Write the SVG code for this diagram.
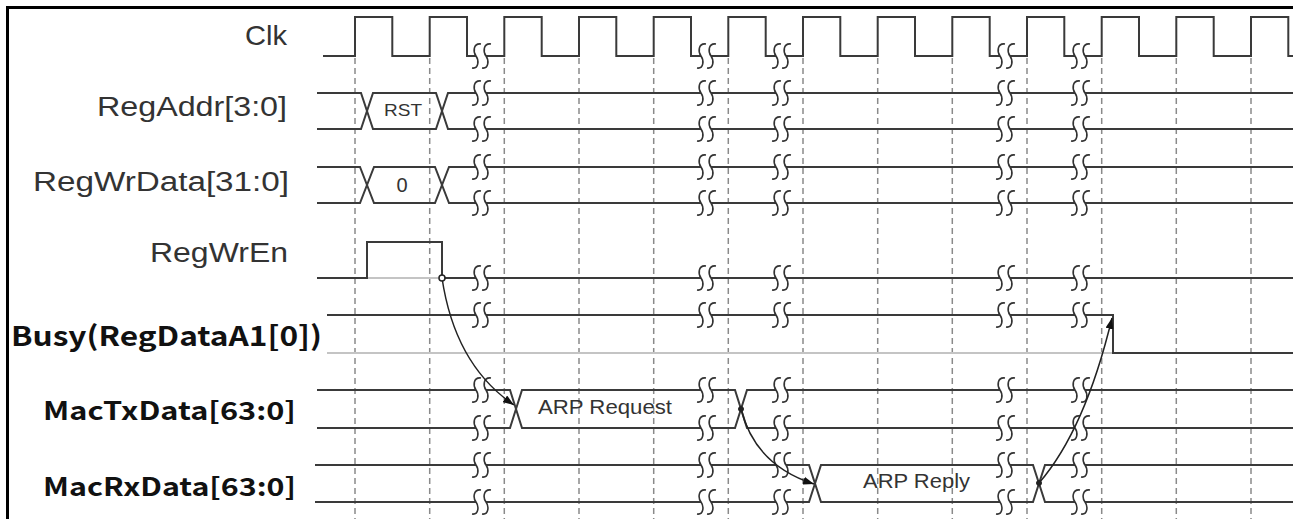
<svg xmlns="http://www.w3.org/2000/svg" xmlns:xlink="http://www.w3.org/1999/xlink" width="1293" height="519" viewBox="0 0 1293 519">
<style>
.wave{fill:none;stroke:#3a3a3a;stroke-width:2;stroke-linejoin:miter}
.ref{fill:none;stroke:#c4c4c4;stroke-width:2}
.grid{fill:none;stroke:#8a8a8a;stroke-width:1.5;stroke-dasharray:6 4}
.lbl{font-family:"Liberation Sans",Arial,sans-serif;font-size:27px;fill:#333}
.glbl{font-family:"Noto Sans CJK JP","DejaVu Sans",sans-serif;font-weight:700;font-size:25px;fill:#111}
.val{font-family:"Liberation Sans",Arial,sans-serif;fill:#333}
.arr{fill:none;stroke:#222;stroke-width:1.5}
.dot{fill:#222;stroke:#222;stroke-width:1}
.bs{fill:none;stroke:#333;stroke-width:1.6}
</style>
<defs>
<g id="brk">
<path d="M 0,-12 C -8,-13 -8,-4 -5,0 C -2,4 -2,13 -9,12 L 1,12 C 8,13 8,4 5,0 C 2,-4 2,-13 10,-12 Z" fill="#fff" stroke="none"/>
<path class="bs" d="M 0,-12 C -8,-13 -8,-4 -5,0 C -2,4 -2,13 -9,12"/>
<path class="bs" d="M 10,-12 C 2,-13 2,-4 5,0 C 8,4 8,13 1,12"/>
</g>
<marker id="ah" markerUnits="userSpaceOnUse" markerWidth="12" markerHeight="8" refX="11" refY="4" orient="auto">
<path d="M0,0 L11,4 L0,8 Z" fill="#111"/>
</marker>
</defs>
<rect x="0" y="0" width="1293" height="519" fill="#fff"/>
<g id="frame">
<path d="M 7.5,519 V 7.5 H 1293" fill="none" stroke="#000" stroke-width="3"/>
</g>
<g id="grid">
<path class="grid" d="M355,58V519 M429.7,58V519 M504.3,58V519 M579,58V519 M653.7,58V519 M728.3,58V519 M803,58V519 M877.7,58V519 M952.3,58V519 M1027,58V519 M1101.7,58V519 M1176.3,58V519 M1251,58V519"/>
</g>
<g id="clk">
<text class="lbl" x="245" y="45" textLength="42" lengthAdjust="spacingAndGlyphs" style="font-size:28px">Clk</text>
<path class="wave" d="M 323,56 H 355 V 17 H 392.3 V 56 H 429.7 V 17 H 467 V 56 H 504.3 V 17 H 541.7 V 56 H 579 V 17 H 616.3 V 56 H 653.7 V 17 H 691 V 56 H 728.3 V 17 H 765.7 V 56 H 803 V 17 H 840.3 V 56 H 877.7 V 17 H 915 V 56 H 952.3 V 17 H 989.7 V 56 H 1027 V 17 H 1064.3 V 56 H 1101.7 V 17 H 1139 V 56 H 1176.3 V 17 H 1213.7 V 56 H 1251 V 17 H 1288.3 V 56 H 1293"/>
<use href="#brk" x="481" y="56"/><use href="#brk" x="706" y="56"/><use href="#brk" x="781" y="56"/><use href="#brk" x="1005" y="56"/><use href="#brk" x="1080" y="56"/>
</g>
<g id="regaddr">
<text class="lbl" x="97" y="116" textLength="190" lengthAdjust="spacingAndGlyphs">RegAddr[3:0]</text>
<path class="wave" d="M 317,93 H 361 L 373,129 H 436 L 448,93 H 1293"/>
<path class="wave" d="M 317,129 H 361 L 373,93 H 436 L 448,129 H 1293"/>
<text class="val" x="384" y="116" font-size="17" textLength="38" lengthAdjust="spacingAndGlyphs">RST</text>
<use href="#brk" x="481" y="93"/><use href="#brk" x="706" y="93"/><use href="#brk" x="781" y="93"/><use href="#brk" x="1005" y="93"/><use href="#brk" x="1080" y="93"/>
<use href="#brk" x="481" y="129"/><use href="#brk" x="706" y="129"/><use href="#brk" x="781" y="129"/><use href="#brk" x="1005" y="129"/><use href="#brk" x="1080" y="129"/>
</g>
<g id="regwrdata">
<text class="lbl" x="33" y="191" textLength="256" lengthAdjust="spacingAndGlyphs">RegWrData[31:0]</text>
<path class="wave" d="M 317,167 H 360 L 374,203 H 435 L 449,167 H 1293"/>
<path class="wave" d="M 317,203 H 360 L 374,167 H 435 L 449,203 H 1293"/>
<text class="val" x="402" y="192" text-anchor="middle" style="font-size:20px">0</text>
<use href="#brk" x="481" y="167"/><use href="#brk" x="706" y="167"/><use href="#brk" x="781" y="167"/><use href="#brk" x="1005" y="167"/><use href="#brk" x="1080" y="167"/>
<use href="#brk" x="481" y="203"/><use href="#brk" x="706" y="203"/><use href="#brk" x="781" y="203"/><use href="#brk" x="1005" y="203"/><use href="#brk" x="1080" y="203"/>
</g>
<g id="regwren">
<text class="lbl" x="150" y="262" textLength="138" lengthAdjust="spacingAndGlyphs">RegWrEn</text>
<path class="ref" d="M 367,278 H 442"/>
<path class="wave" d="M 317,278 H 367 V 242 H 442 V 278 H 1293"/>
<use href="#brk" x="481" y="278"/><use href="#brk" x="706" y="278"/><use href="#brk" x="781" y="278"/><use href="#brk" x="1005" y="278"/><use href="#brk" x="1080" y="278"/>
</g>
<g id="busy">
<text class="glbl" x="11" y="346" textLength="311" lengthAdjust="spacingAndGlyphs" style="font-size:27px">Busy(RegDataA1[0])</text>
<path class="ref" d="M 327,353 H 1113"/>
<path class="wave" d="M 327,315 H 1113 V 353 H 1293"/>
<use href="#brk" x="481" y="315"/><use href="#brk" x="706" y="315"/><use href="#brk" x="781" y="315"/><use href="#brk" x="1005" y="315"/><use href="#brk" x="1080" y="315"/>
</g>
<g id="mactxdata">
<text class="glbl" x="43" y="420" textLength="253" lengthAdjust="spacingAndGlyphs">MacTxData[63:0]</text>
<path class="wave" d="M 317,390 H 510 L 522,428 H 735 L 747,390 H 1293"/>
<path class="wave" d="M 317,428 H 510 L 522,390 H 735 L 747,428 H 1293"/>
<text class="val" x="538" y="414" font-size="20" textLength="134" lengthAdjust="spacingAndGlyphs">ARP Request</text>
<use href="#brk" x="481" y="390"/><use href="#brk" x="706" y="390"/><use href="#brk" x="781" y="390"/><use href="#brk" x="1005" y="390"/><use href="#brk" x="1080" y="390"/>
<use href="#brk" x="481" y="428"/><use href="#brk" x="706" y="428"/><use href="#brk" x="781" y="428"/><use href="#brk" x="1005" y="428"/><use href="#brk" x="1080" y="428"/>
</g>
<g id="macrxdata">
<text class="glbl" x="43" y="496" textLength="253" lengthAdjust="spacingAndGlyphs">MacRxData[63:0]</text>
<path class="wave" d="M 315,465 H 809 L 821,502 H 1033 L 1045,465 H 1293"/>
<path class="wave" d="M 315,502 H 809 L 821,465 H 1033 L 1045,502 H 1293"/>
<text class="val" x="863" y="488" font-size="20" textLength="107" lengthAdjust="spacingAndGlyphs">ARP Reply</text>
<use href="#brk" x="481" y="465"/><use href="#brk" x="706" y="465"/><use href="#brk" x="781" y="465"/><use href="#brk" x="1005" y="465"/><use href="#brk" x="1080" y="465"/>
<use href="#brk" x="481" y="502"/><use href="#brk" x="706" y="502"/><use href="#brk" x="781" y="502"/><use href="#brk" x="1005" y="502"/><use href="#brk" x="1080" y="502"/>
</g>
<g id="connectors">
<path class="arr" d="M 442,278 Q 455,365 514,405" marker-end="url(#ah)"/>
<path class="arr" d="M 741,409 Q 755,465 814,484" marker-end="url(#ah)"/>
<path class="arr" d="M 1039,483 Q 1085,430 1112,318" marker-end="url(#ah)"/>
<circle cx="442" cy="278" r="3" fill="#fff" stroke="#222" stroke-width="1.5"/>
<circle class="dot" cx="741" cy="409" r="2.5"/>
<circle class="dot" cx="1039" cy="483" r="2.5"/>
</g>
</svg>
